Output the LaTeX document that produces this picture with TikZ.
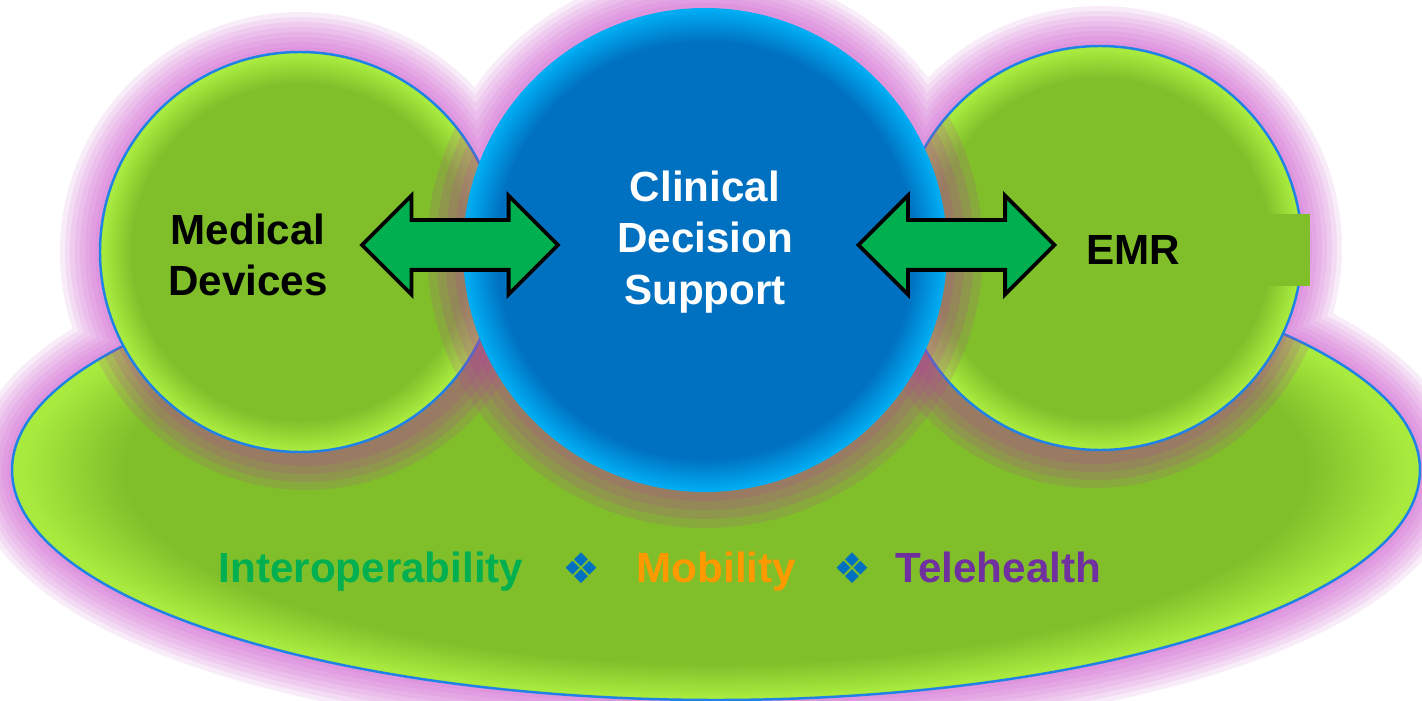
\documentclass[tikz,border=0pt]{standalone}
\usepackage{fontspec}
\setmainfont{Liberation Sans}
\newfontfamily\symfont{DejaVu Sans}
\usepackage{xcolor}
\usetikzlibrary{shapes.arrows}

\definecolor{greenmid}{RGB}{128,191,42}
\definecolor{greenedge}{RGB}{168,234,62}
\definecolor{bluemid}{RGB}{0,112,192}
\definecolor{blueedge}{RGB}{0,172,242}
\definecolor{rimblue}{RGB}{30,130,230}
\definecolor{glow}{RGB}{205,85,205}
\definecolor{shadowtone}{RGB}{180,60,160}
\definecolor{arrowgreen}{RGB}{0,176,80}
\definecolor{mobility}{RGB}{255,153,0}
\definecolor{telehealth}{RGB}{112,48,160}

% the shape's edge sits at 25bp
\pgfdeclareradialshading{greenball}{\pgfpoint{0bp}{0bp}}{color(0bp)=(greenmid); color(21bp)=(greenmid); color(24.6bp)=(greenedge); color(50bp)=(greenedge)}
\pgfdeclareradialshading{blueball}{\pgfpoint{0bp}{0bp}}{color(0bp)=(bluemid); color(21.5bp)=(bluemid); color(24.8bp)=(blueedge); color(50bp)=(blueedge)}

\tikzset{
  greenshape/.style={draw=rimblue, line width=0.7pt, shade, shading=greenball},
  biarrow/.style={double arrow, draw=black, line width=1.1pt, fill=arrowgreen,
    minimum height=1.96cm, minimum width=0.95cm, inner sep=0pt,
    text height=0.46cm, text depth=0pt, double arrow head extend=0.245cm},
  label/.style={font=\bfseries\fontsize{12}{14.7}\selectfont, align=center},
  bullet/.style={font=\symfont\fontsize{12}{14}\selectfont, text=bluemid, inner sep=0pt}
}

\begin{document}
\begin{tikzpicture}
  \useasboundingbox (0,0) rectangle (14.22,7.01);
  \fill[white] (0,0) rectangle (14.22,7.01);

  \coordinate (cE) at (7.16,2.31);
  \coordinate (cL) at (3.00,4.49);
  \coordinate (cC) at (7.05,4.51);
  \coordinate (cR) at (11.00,4.53);

  % glow round the whole group
  \foreach \w in {0.8,0.7,0.6,0.5,0.4,0.3,0.2,0.1} {
    \begin{scope}[transparency group, opacity=0.11]
      \draw[glow, fill=glow, line width=\w cm]
        (cE) ellipse [x radius=7.04, y radius=2.30]
        (cL) circle [radius=2.00]
        (cC) circle [radius=2.42]
        (cR) circle [radius=2.02];
    \end{scope}
  }

  % base
  \path[greenshape] (cE) ellipse [x radius=7.04, y radius=2.30];

  % shadows on the base
  \begin{scope}
    \clip (cE) ellipse [x radius=7.04, y radius=2.30];
    \foreach \d in {0.32,0.24,0.16,0.08} {
      \fill[shadowtone, opacity=0.16] ([shift={(0.06,-0.06)}]cL) circle [radius={2.00+\d}];
      \fill[shadowtone, opacity=0.16] ([shift={(-0.06,-0.06)}]cR) circle [radius={2.02+\d}];
    }
  \end{scope}

  \path[greenshape] (cL) circle [radius=2.00];
  \path[greenshape] (cR) circle [radius=2.02];

  % shadow of the centre circle
  \begin{scope}
    \clip (cE) ellipse [x radius=7.04, y radius=2.30]
      (cL) circle [radius=2.00] (cR) circle [radius=2.02];
    \foreach \d in {0.36,0.27,0.18,0.09} {
      \fill[shadowtone, opacity=0.16] (cC) circle [radius={2.42+\d}];
    }
  \end{scope}

  \node[circle, minimum size=4.84cm, inner sep=0pt, shade, shading=blueball] (support) at (cC) {};

  \node[fill=greenmid, minimum width=0.6cm, minimum height=0.72cm, inner sep=0pt] (emrtab) at (12.80,4.51) {};

  \node[biarrow] (arrleft) at (4.60,4.56) {};
  \node[biarrow] (arrright) at (9.565,4.56) {};

  \node[label] (devices) at (2.48,4.46) {Medical\\Devices};
  \node[label, text=white] (cds) at (7.05,4.59) {Clinical\\Decision\\Support};
  \node[label] (emr) at (11.33,4.51) {EMR};

  \node[label, text=arrowgreen, anchor=base west, inner sep=0pt] (interop) at (2.18,1.18) {Interoperability};
  \node[bullet] (sepa) at (5.81,1.33) {❖};
  \node[label, text=mobility, anchor=base west, inner sep=0pt] (mobil) at (6.36,1.18) {Mobility};
  \node[bullet] (sepb) at (8.52,1.33) {❖};
  \node[label, text=telehealth, anchor=base west, inner sep=0pt] (tele) at (8.95,1.18) {Telehealth};
\end{tikzpicture}
\end{document}
